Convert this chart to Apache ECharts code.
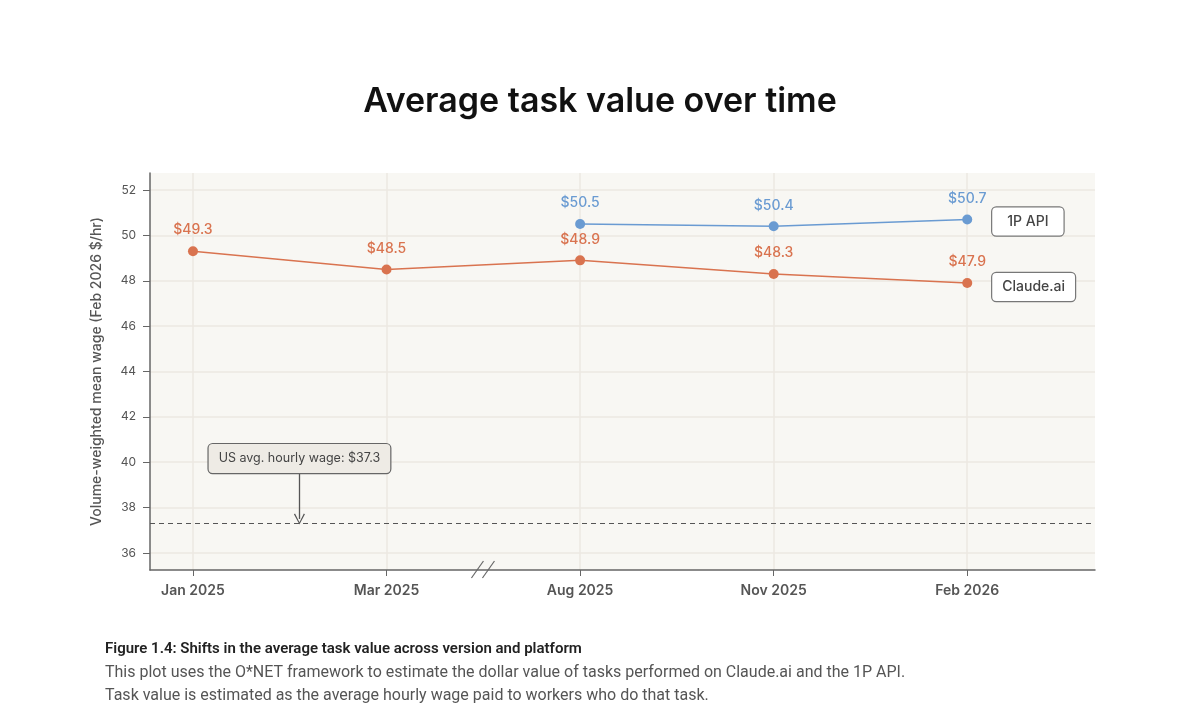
<!DOCTYPE html>
<html>
<head>
    <meta charset="utf-8">
    <title>Average task value over time</title>
    <script src="https://cdn.jsdelivr.net/npm/echarts@6/dist/echarts.min.js"></script>
    <style>
        html, body { margin: 0; padding: 0; background: #fff; }
        #chart { width: 1200px; height: 706px; }
    </style>
</head>
<body>
<div id="chart"></div>
<script>
    // 数据
    var months = ['Jan 2025', 'Mar 2025', 'Aug 2025', 'Nov 2025', 'Feb 2026'];
    var claudeAi = [49.3, 48.5, 48.9, 48.3, 47.9];
    var firstPartyApi = [null, null, 50.5, 50.4, 50.7];
    var yTicks = [36, 38, 40, 42, 44, 46, 48, 50, 52];
    var usAvgWage = 37.3;

    var ORANGE = '#d9734f';
    var BLUE = '#6a9bd2';
    var GRAY = '#555';

    function toPairs(arr) {
        var out = [];
        arr.forEach(function (v, i) { if (v != null) out.push([i, v]); });
        return out;
    }

    var myChart = echarts.init(document.getElementById('chart'));

    myChart.setOption({
        backgroundColor: '#fff',
        animation: false,
        textStyle: { fontFamily: 'Inter, "Noto Sans", sans-serif' },
        title: {
            text: 'Average task value over time',
            left: 'center',
            top: 80,
            textStyle: { fontSize: 34, fontWeight: 600, color: '#111', fontFamily: 'Inter, sans-serif' }
        },
        grid: { left: 150, right: 105, top: 173, bottom: 136, show: true, backgroundColor: '#f8f7f3', borderWidth: 0 },
        xAxis: {
            type: 'value',
            min: -0.222,
            max: 4.66,
            axisLine: { show: true, onZero: false, lineStyle: { color: '#666', width: 1.5 } },
            axisTick: { show: true, customValues: [0, 1, 2, 3, 4], length: 6, lineStyle: { color: '#666' } },
            axisLabel: {
                customValues: [0, 1, 2, 3, 4],
                formatter: function (v) { return months[Math.round(v)]; },
                color: GRAY, fontSize: 14, fontWeight: 600, margin: 14
            },
            splitLine: { show: true, lineStyle: { color: '#ece9e2', width: 1.5 } }
        },
        yAxis: {
            type: 'value',
            min: 35.25,
            max: 52.75,
            name: 'Volume-weighted mean wage (Feb 2026 $/hr)',
            nameLocation: 'middle',
            nameGap: 46,
            nameTextStyle: { color: GRAY, fontSize: 14, fontWeight: 500 },
            axisLine: { show: true, onZero: false, lineStyle: { color: '#666', width: 1.5 } },
            axisTick: { show: true, customValues: yTicks, length: 7, lineStyle: { color: '#666' } },
            axisLabel: { customValues: yTicks, color: GRAY, fontSize: 12, margin: 14 },
            splitLine: { show: true, lineStyle: { color: '#ece9e2', width: 1.5 } }
        },
        series: [{
            name: 'Claude.ai',
            type: 'line',
            data: toPairs(claudeAi),
            symbol: 'circle',
            symbolSize: 10,
            lineStyle: { color: ORANGE, width: 1.5 },
            itemStyle: { color: ORANGE },
            label: {
                show: true, position: 'top', distance: 9, color: ORANGE, fontSize: 14, fontWeight: 500,
                formatter: function (p) { return '$' + p.value[1].toFixed(1); }
            },
            endLabel: {
                show: true, formatter: 'Claude.ai', color: '#444', fontSize: 14, fontWeight: 500,
                backgroundColor: '#fff', borderColor: '#777', borderWidth: 1.2, borderRadius: 4,
                padding: [7, 10], distance: 25, offset: [0, 4]
            },
            markLine: {
                silent: true,
                symbol: 'none',
                label: { show: false },
                lineStyle: { color: '#555', type: [5, 4], width: 1 },
                data: [{ yAxis: usAvgWage }]
            }
        }, {
            name: '1P API',
            type: 'line',
            data: toPairs(firstPartyApi),
            symbol: 'circle',
            symbolSize: 10,
            lineStyle: { color: BLUE, width: 1.5 },
            itemStyle: { color: BLUE },
            label: {
                show: true, position: 'top', distance: 9, color: BLUE, fontSize: 14, fontWeight: 500,
                formatter: function (p) { return '$' + p.value[1].toFixed(1); }
            },
            endLabel: {
                show: true, formatter: '1P API', color: '#444', fontSize: 14, fontWeight: 500,
                backgroundColor: '#fff', borderColor: '#777', borderWidth: 1.2, borderRadius: 4,
                padding: [7, 15], distance: 25, offset: [0, 2]
            },
            // 注释：美国平均时薪
            markLine: {
                silent: true,
                symbol: ['none', 'path://M0,10 L5,0 L10,10 L9,10.8 L5,2.2 L1,10.8 Z'],
                symbolSize: 11,
                label: { show: false },
                lineStyle: { color: '#555', type: 'solid', width: 1.3 },
                data: [[{ coord: [0.55, 39.84] }, { coord: [0.55, 37.5] }]]
            },
            markPoint: {
                silent: true,
                symbol: 'rect',
                symbolSize: 0,
                data: [{ coord: [0.55, 40.16] }],
                label: {
                    show: true, formatter: 'US avg. hourly wage: $' + usAvgWage.toFixed(1),
                    color: '#444', fontSize: 12.5,
                    backgroundColor: '#eeebe5', borderColor: '#666', borderWidth: 1.2, borderRadius: 4,
                    padding: [8, 10]
                }
            }
        }]
    });

    // 坐标轴断裂标记 + 图注
    var bp = myChart.convertToPixel({ gridIndex: 0 }, [1.48, 35.25]);
    myChart.setOption({
        graphic: [
            { id: 'brk1', type: 'line', shape: { x1: bp[0] - 8, y1: bp[1] + 8, x2: bp[0] + 4, y2: bp[1] - 9 }, style: { stroke: '#666', lineWidth: 1.2 } },
            { id: 'brk2', type: 'line', shape: { x1: bp[0] + 3, y1: bp[1] + 8, x2: bp[0] + 15, y2: bp[1] - 9 }, style: { stroke: '#666', lineWidth: 1.2 } },
            {
                id: 'cap1', type: 'text', left: 105, top: 642,
                style: { text: 'Figure 1.4: Shifts in the average task value across version and platform', fontSize: 15, fontWeight: 600, fill: '#222', fontFamily: 'Roboto, sans-serif' }
            },
            {
                id: 'cap2', type: 'text', left: 105, top: 665,
                style: { text: 'This plot uses the O*NET framework to estimate the dollar value of tasks performed on Claude.ai and the 1P API.', fontSize: 16, fontWeight: 'normal', fill: '#555', fontFamily: 'Roboto, sans-serif' }
            },
            {
                id: 'cap3', type: 'text', left: 105, top: 688,
                style: { text: 'Task value is estimated as the average hourly wage paid to workers who do that task.', fontSize: 16, fontWeight: 'normal', fill: '#555', fontFamily: 'Roboto, sans-serif' }
            }
        ]
    });
</script>
</body>
</html>
